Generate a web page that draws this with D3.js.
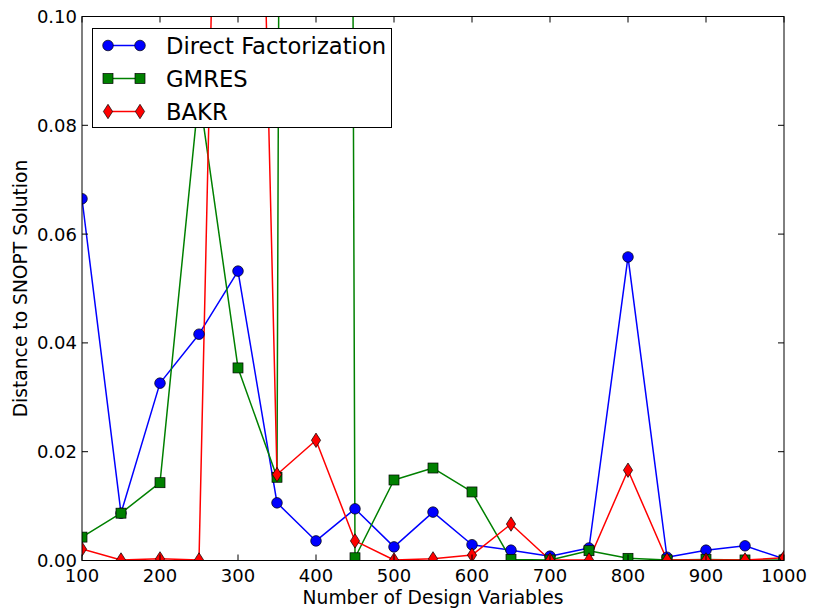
<!DOCTYPE html>
<html>
<head>
<meta charset="utf-8">
<script src="https://cdn.jsdelivr.net/npm/d3@7"></script>
<style>
  html, body { margin: 0; padding: 0; background: #fff; }
  text { font-family: "DejaVu Sans", sans-serif; }
</style>
</head>
<body>
<svg id="chart" width="814" height="613"></svg>
<script>
const designVars = [100,150,200,250,300,350,400,450,500,550,600,650,700,750,800,850,900,950,1000];
const directFactorization = [0.0665,0.0087,0.0326,0.0416,0.0532,0.0106,0.0036,0.0095,0.0025,0.0089,0.0029,0.0019,0.0008,0.0023,0.0558,0.0006,0.0019,0.0027,0.0003];
const gmres = [0.0043,0.0087,0.0143,0.086,0.0354,0.0153,2.0,0.0005,0.0148,0.017,0.0126,0.0002,0.0001,0.0018,0.0004,0.0001,0.0002,0.0001,0.0001];
const bakr = [0.0021,0.0001,0.0003,0.0001,0.32,0.0158,0.0221,0.0036,0.0001,0.0003,0.001,0.0067,0.0001,0.0001,0.0166,0.0001,0.0001,0.0001,0.0005];
const xTicks = [100,200,300,400,500,600,700,800,900,1000];
const yTicks = [0,0.02,0.04,0.06,0.08,0.10];
const seriesNames = ["Direct Factorization","GMRES","BAKR"];
const seriesColors = ["#0000ff","#008000","#ff0000"];
const seriesMarkers = ["circle","square","diamond"];
const seriesValues = [directFactorization, gmres, bakr];

const L = 82, R = 784, T = 16.5, B = 560.5;
const svg = d3.select("#chart");
const x = d3.scaleLinear().domain([100,1000]).range([L,R]);
const y = d3.scaleLinear().domain([0,0.1]).range([B,T]);

svg.append("defs").append("clipPath").attr("id","clip")
  .append("rect").attr("x",L).attr("y",T).attr("width",R-L).attr("height",B-T);

function marker(g, type, cx, cy, color) {
  if (type === "circle") {
    g.append("circle").attr("cx",cx).attr("cy",cy).attr("r",5.3)
      .attr("fill",color).attr("stroke","#000").attr("stroke-width",0.7);
  } else if (type === "square") {
    g.append("rect").attr("x",cx-5).attr("y",cy-5).attr("width",10).attr("height",10)
      .attr("fill",color).attr("stroke","#000").attr("stroke-width",0.7);
  } else {
    const w = 4.6, h = 7.2;
    g.append("path").attr("d",`M${cx},${cy-h}L${cx+w},${cy}L${cx},${cy+h}L${cx-w},${cy}Z`)
      .attr("fill",color).attr("stroke","#000").attr("stroke-width",0.7);
  }
}

const plot = svg.append("g").attr("clip-path","url(#clip)");
const line = d3.line().x((d,i)=>x(designVars[i])).y(d=>y(d));
seriesValues.forEach((vals, s) => {
  plot.append("path").datum(vals).attr("d", line)
    .attr("fill","none").attr("stroke",seriesColors[s]).attr("stroke-width",1.5)
    .attr("stroke-linejoin","round");
});
seriesValues.forEach((vals, s) => {
  const g = plot.append("g");
  vals.forEach((v,i) => marker(g, seriesMarkers[s], x(designVars[i]), y(v), seriesColors[s]));
});

// frame
svg.append("rect").attr("x",L).attr("y",T).attr("width",R-L).attr("height",B-T)
  .attr("fill","none").attr("stroke","#000").attr("stroke-width",1);

// ticks (inward, all four sides)
const tl = 6;
const tg = svg.append("g").attr("stroke","#000").attr("stroke-width",1);
xTicks.forEach(t => {
  tg.append("line").attr("x1",x(t)).attr("x2",x(t)).attr("y1",B).attr("y2",B-tl);
  tg.append("line").attr("x1",x(t)).attr("x2",x(t)).attr("y1",T).attr("y2",T+tl);
});
yTicks.forEach(t => {
  tg.append("line").attr("x1",L).attr("x2",L+tl).attr("y1",y(t)).attr("y2",y(t));
  tg.append("line").attr("x1",R).attr("x2",R-tl).attr("y1",y(t)).attr("y2",y(t));
});

// tick labels
xTicks.forEach(t => {
  svg.append("text").attr("x",x(t)).attr("y",B+21).attr("text-anchor","middle")
    .attr("font-size",18).text(t);
});
yTicks.forEach(t => {
  svg.append("text").attr("x",L-5).attr("y",y(t)+6.5).attr("text-anchor","end")
    .attr("font-size",18).text(t.toFixed(2));
});

// axis labels
svg.append("text").attr("x",(L+R)/2).attr("y",604).attr("text-anchor","middle")
  .attr("font-size",18.7).text("Number of Design Variables");
svg.append("text").attr("transform",`translate(27,${(T+B)/2}) rotate(-90)`)
  .attr("text-anchor","middle").attr("font-size",18.7).text("Distance to SNOPT Solution");

// legend
const lg = svg.append("g");
lg.append("rect").attr("x",92.5).attr("y",28.5).attr("width",299).attr("height",99)
  .attr("fill","#fff").attr("stroke","#000").attr("stroke-width",1);
const rowsY = [45.5, 78.5, 111.5];
seriesNames.forEach((name, s) => {
  const yy = rowsY[s];
  lg.append("line").attr("x1",108).attr("x2",140).attr("y1",yy).attr("y2",yy)
    .attr("stroke",seriesColors[s]).attr("stroke-width",1.5);
  marker(lg, seriesMarkers[s], 108, yy, seriesColors[s]);
  marker(lg, seriesMarkers[s], 140, yy, seriesColors[s]);
  lg.append("text").attr("x",166).attr("y",yy+8).attr("font-size",22.7).text(name);
});
</script>
</body>
</html>
